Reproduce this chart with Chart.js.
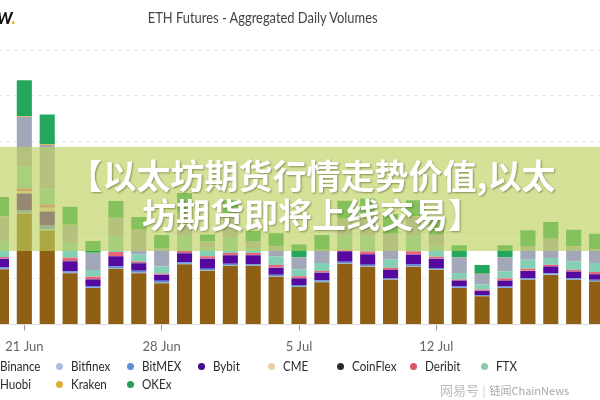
<!DOCTYPE html>
<html>
<head>
<meta charset="utf-8">
<script src="https://cdn.jsdelivr.net/npm/chart.js@4.4.1/dist/chart.umd.min.js"></script>
<style>
  html, body { margin:0; padding:0; width:600px; height:400px; overflow:hidden; background:#fff; font-family: Lato, "Open Sans", sans-serif; }
  #wrap { position:absolute; left:-10px; top:0; width:618px; height:363px; }
  #title { position:absolute; left:0; top:8px; width:525px; text-align:center; font-size:15px; color:#444; }
  #title span { display:inline-block; transform:scaleX(0.86); }
  #logo { position:absolute; left:-3px; top:8px; font-size:16px; font-weight:900; color:#111; font-style:italic; }
  #logo b { color:#e8b020; }
  .lg { position:absolute; font-size:13.5px; color:#2a2a2a; white-space:nowrap; }
  .lg i { position:absolute; width:7px; height:7px; border-radius:50%; left:-15px; top:5px; }
  .lg span { display:inline-block; transform:scaleX(0.86); transform-origin:left center; }
  #banner { position:absolute; left:0; top:147px; width:600px; height:104px; background:rgba(190,208,92,0.64); }
  #btext { position:absolute; left:12px; top:155px; width:600px; text-align:center; font-family:"Noto Sans CJK SC", sans-serif; font-weight:700; font-size:34px; line-height:39px; color:#fff; text-shadow: 1px 1px 2px rgba(60,70,20,0.5); }
  #wm { position:absolute; left:440px; top:376px; white-space:nowrap; color:#aaa; font-family:"Noto Sans CJK SC", sans-serif; }
</style>
</head>
<body>
<div id="wrap"><canvas id="c"></canvas></div>
<div id="logo">W<b>.</b></div>
<div id="title"><span>ETH Futures - Aggregated Daily Volumes</span></div>
<div id="legend"></div>
<div id="banner"></div>
<div id="btext">【以太坊期货行情走势价值,以太<br>坊期货即将上线交易】</div>
<div id="wm"><span style="font-size:13px;color:#bbb;">网易号</span> <span style="font-size:12px;color:#ccc;">|</span> <span style="font-size:11px;">链闻ChainNews</span></div>
<script>
// category labels (only weekly ticks are labelled in the reference)
const categories = ['', '21 Jun', '', '', '', '', '', '28 Jun', '', '', '', '', '', '5 Jul', '', '', '', '', '', '12 Jul', '', '', '', '', '', '', ''];
const tickIndexes = [1, 7, 13, 19];

// exchange names (stack order bottom -> top) and colours
const exchanges = ['Binance', 'Bitfinex', 'BitMEX', 'Bybit', 'CME', 'CoinFlex', 'Deribit', 'FTX', 'Huobi', 'Kraken', 'OKEx'];
const colors = ['#8f5f14', '#a9bde2', '#5a8fd6', '#55099e', '#e6cf9a', '#333333', '#e8657a', '#84d0b4', '#a3a8b8', '#e0b030', '#22a75c'];
const legendColors = ['#8f5f14', '#a9bde2', '#5a8fd6', '#3f0c8e', '#e6d3a4', '#2b2b2b', '#e05565', '#8cc9a8', '#a3a8b8', '#d9ae38', '#2a9d5a'];

// daily volumes, USD billions
const binance  = [6.03,12.12,10.27,5.60,3.97,6.09,5.60,4.51,6.58,5.87,6.41,6.41,5.22,4.08,4.62,6.63,6.30,4.89,6.30,5.98,3.97,3.07,3.97,4.87,5.41,4.87,4.70];
const bitfinex = [0.05,0.08,0.12,0.05,0.04,0.06,0.06,0.05,0.05,0.05,0.05,0.04,0.05,0.04,0.04,0.05,0.05,0.03,0.05,0.04,0.04,0.03,0.04,0.04,0.04,0.04,0.04];
const bitmex   = [0.17,0.25,0.42,0.17,0.18,0.21,0.21,0.22,0.17,0.17,0.17,0.12,0.17,0.18,0.18,0.17,0.17,0.11,0.20,0.14,0.14,0.08,0.14,0.14,0.14,0.14,0.14];
const bybit    = [0.92,1.85,1.52,1.09,0.71,1.09,0.82,0.65,0.98,1.09,0.92,0.98,0.76,0.71,0.82,1.14,1.14,0.91,1.09,1.01,0.61,0.50,0.61,0.79,0.73,0.73,0.61];
const cme      = [0.03,0.22,0.43,0.03,0.02,0.03,0.03,0.02,0.03,0.03,0.03,0.03,0.02,0.02,0.02,0.03,0.03,0.02,0.03,0.03,0.02,0.02,0.02,0.02,0.02,0.02,0.02];
const coinflex = [0.01,0.01,0.01,0.01,0.01,0.01,0.01,0.01,0.01,0.01,0.01,0.01,0.01,0.01,0.01,0.01,0.01,0.01,0.01,0.01,0.01,0.01,0.01,0.01,0.01,0.01,0.01];
const deribit  = [0.16,0.33,0.33,0.33,0.27,0.43,0.16,0.11,0.22,0.22,0.22,0.22,0.27,0.22,0.16,0.16,0.27,0.22,0.33,0.18,0.11,0.11,0.22,0.22,0.17,0.17,0.22];
const ftx      = [1.74,2.39,1.74,1.63,0.76,1.74,0.76,0.76,1.63,0.95,1.74,0.54,0.92,0.74,0.87,1.49,1.63,0.90,1.63,1.20,0.73,0.54,0.80,0.98,0.73,0.91,0.98];
const huobi    = [2.72,5.44,4.78,1.96,1.85,1.96,2.66,2.01,2.50,0.65,2.36,0.76,1.12,1.35,1.41,1.85,2.28,2.79,2.17,1.20,1.71,1.16,1.52,1.49,2.10,1.63,1.45];
const kraken   = [0.03,0.10,0.08,0.03,0.02,0.03,0.03,0.02,0.03,0.02,0.03,0.02,0.02,0.02,0.02,0.03,0.03,0.02,0.03,0.02,0.02,0.02,0.02,0.02,0.02,0.02,0.02];
const okex     = [2.07,3.91,3.26,1.96,1.30,1.85,1.41,1.41,2.17,0.76,1.63,1.09,1.41,1.36,1.63,1.96,1.85,2.17,1.74,1.85,1.30,0.95,1.30,1.71,1.82,1.80,1.71];

const series = [binance, bitfinex, bitmex, bybit, cme, coinflex, deribit, ftx, huobi, kraken, okex];

const datasets = exchanges.map((name, i) => ({
  label: name,
  data: series[i],
  backgroundColor: colors[i],
  borderWidth: 0,
  barPercentage: 0.66,
  categoryPercentage: 1.0
}));

new Chart(document.getElementById('c'), {
  type: 'bar',
  data: { labels: categories, datasets },
  options: {
    responsive: true,
    maintainAspectRatio: false,
    animation: false,
    layout: { padding: { top: 50, left: 0, right: 0, bottom: 0 } },
    plugins: { legend: { display: false }, title: { display: false }, tooltip: { enabled: false } },
    scales: {
      x: {
        stacked: true,
        border: { display: true, color: '#dddddd' },
        grid: {
          offset: false,
          drawOnChartArea: false,
          drawTicks: true,
          tickLength: 6,
          color: (ctx) => tickIndexes.includes(ctx.index) ? '#999999' : 'rgba(0,0,0,0)'
        },
        ticks: {
          autoSkip: false, maxRotation: 0, padding: 8.5,
          color: '#666', font: { family: 'Lato', size: 13 },
          callback: (v, i) => categories[i]
        }
      },
      y: {
        stacked: true,
        min: 0, max: 30,
        border: { display: false, dash: [4, 4] },
        grid: { color: '#e4e4e4', drawTicks: false, lineWidth: 1 },
        ticks: { display: false, stepSize: 5 }
      }
    }
  }
});

// legend (HTML)
const legendCols = [0, 71, 142, 213, 283, 352, 425, 496];
const legendRows = [358, 376];
const lg = document.getElementById('legend');
exchanges.forEach((name, i) => {
  const row = i < 8 ? 0 : 1;
  const col = i < 8 ? i : i - 8;
  const d = document.createElement('div');
  d.className = 'lg';
  d.style.left = legendCols[col] + 'px';
  d.style.top = legendRows[row] + 'px';
  d.innerHTML = '<i style="background:' + legendColors[i] + '"></i><span>' + name + '</span>';
  lg.appendChild(d);
});
</script>
</body>
</html>
